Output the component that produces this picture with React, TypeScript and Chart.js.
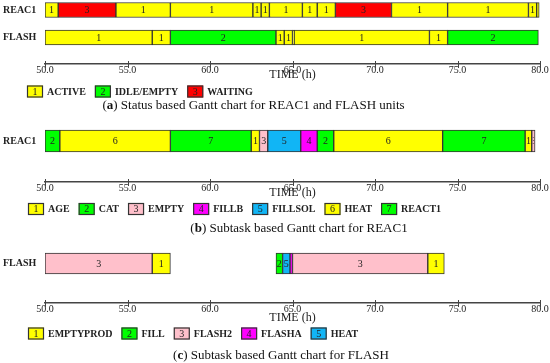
import { useEffect, useRef } from 'react';
import { Chart, registerables } from 'chart.js';

Chart.register(...registerables);

const SERIF = "'Liberation Serif', 'Times New Roman', serif";

// ---- shared axis ----
const timeTicks = [50, 55, 60, 65, 70, 75, 80];
const timeMin = 50;
const timeMax = 80;
const axisTitle = 'TIME (h)';

// ---- (a) status based ----
const statusRows = ['REAC1', 'FLASH'];
const statusNames = ['ACTIVE', 'IDLE/EMPTY', 'WAITING'];
const statusColors = ['#ffff00', '#00ff00', '#ff0000'];
const statusReac1Start = [50.0, 50.8, 54.3, 57.6, 62.6, 63.1, 63.6, 65.6, 66.5, 67.6, 71.0, 74.4, 79.3, 79.8];
const statusReac1End = [50.8, 54.3, 57.6, 62.6, 63.1, 63.6, 65.6, 66.5, 67.6, 71.0, 74.4, 79.3, 79.8, 79.95];
const statusReac1Code = [1, 3, 1, 1, 1, 1, 1, 1, 1, 3, 1, 1, 1, 1];
const statusFlashStart = [50.0, 56.5, 57.6, 64.0, 64.5, 65.0, 65.1, 73.3, 74.4];
const statusFlashEnd = [56.5, 57.6, 64.0, 64.5, 65.0, 65.1, 73.3, 74.4, 79.9];
const statusFlashCode = [1, 1, 2, 1, 1, 1, 1, 1, 2];

// ---- (b) subtask based, REAC1 ----
const reac1TaskRows = ['REAC1'];
const reac1TaskNames = ['AGE', 'CAT', 'EMPTY', 'FILLB', 'FILLSOL', 'HEAT', 'REACT1'];
const reac1TaskColors = ['#ffff00', '#00ff00', '#ffc0cb', '#ff00ff', '#11b5f5', '#ffff00', '#00ff00'];
const reac1TaskStart = [50.0, 50.9, 57.6, 62.5, 63.0, 63.5, 65.5, 66.5, 67.5, 74.1, 79.1, 79.5];
const reac1TaskEnd = [50.9, 57.6, 62.5, 63.0, 63.5, 65.5, 66.5, 67.5, 74.1, 79.1, 79.5, 79.7];
const reac1TaskCode = [2, 6, 7, 1, 3, 5, 4, 2, 6, 7, 1, 3];

// ---- (c) subtask based, FLASH ----
const flashTaskRows = ['FLASH'];
const flashTaskNames = ['EMPTYPROD', 'FILL', 'FLASH2', 'FLASHA', 'HEAT'];
const flashTaskColors = ['#ffff00', '#00ff00', '#ffc0cb', '#ff00ff', '#11b5f5'];
const flashTaskStart = [50.0, 56.5, 64.0, 64.4, 64.85, 65.0, 73.2];
const flashTaskEnd = [56.5, 57.6, 64.4, 64.85, 65.0, 73.2, 74.2];
const flashTaskCode = [3, 1, 2, 5, 4, 3, 1];

type Row = { start: number[]; end: number[]; code: number[] };

interface PanelCfg {
  rows: string[];
  segs: Row[];
  names: string[];
  colors: string[];
  areaTop: number;
  axisY: number;
  yMin: number;
  yMax: number;
  thickness: number;
  timeY: number;
  legendX: number;
  legendY: number;
  tag: string;
  caption: string;
  captionCx: number;
  captionY: number;
}

const panels: PanelCfg[] = [
  {
    rows: statusRows,
    segs: [
      { start: statusReac1Start, end: statusReac1End, code: statusReac1Code },
      { start: statusFlashStart, end: statusFlashEnd, code: statusFlashCode },
    ],
    names: statusNames,
    colors: statusColors,
    areaTop: 0,
    axisY: 64,
    yMin: -0.364,
    yMax: 1.964,
    thickness: 15,
    timeY: 75,
    legendX: 27,
    legendY: 91.5,
    tag: 'a',
    caption: ' Status based Gantt chart for REAC1 and FLASH units',
    captionCx: 253.5,
    captionY: 106,
  },
  {
    rows: reac1TaskRows,
    segs: [{ start: reac1TaskStart, end: reac1TaskEnd, code: reac1TaskCode }],
    names: reac1TaskNames,
    colors: reac1TaskColors,
    areaTop: 120,
    axisY: 182,
    yMin: -0.5,
    yMax: 0.976,
    thickness: 22,
    timeY: 193,
    legendX: 28,
    legendY: 209,
    tag: 'b',
    caption: ' Subtask based Gantt chart for REAC1',
    captionCx: 299,
    captionY: 229,
  },
  {
    rows: flashTaskRows,
    segs: [{ start: flashTaskStart, end: flashTaskEnd, code: flashTaskCode }],
    names: flashTaskNames,
    colors: flashTaskColors,
    areaTop: 240,
    axisY: 303,
    yMin: -0.5,
    yMax: 0.84,
    thickness: 21,
    timeY: 318,
    legendX: 28,
    legendY: 333.5,
    tag: 'c',
    caption: ' Subtask based Gantt chart for FLASH',
    captionCx: 281,
    captionY: 356,
  },
];

function buildChart(canvas: HTMLCanvasElement, cfg: PanelCfg) {
  const data: { x: [number, number]; y: number }[] = [];
  const codes: number[] = [];
  cfg.segs.forEach((row, ri) => {
    row.start.forEach((s, i) => {
      data.push({ x: [s, row.end[i]], y: ri });
      codes.push(row.code[i]);
    });
  });

  const decor = {
    id: 'ganttDecor',
    afterDatasetsDraw(chart: any) {
      const ctx = chart.ctx as CanvasRenderingContext2D;
      const meta = chart.getDatasetMeta(0);
      ctx.save();
      ctx.font = `10px ${SERIF}`;
      ctx.fillStyle = '#222';
      ctx.textAlign = 'center';
      ctx.textBaseline = 'middle';
      meta.data.forEach((el: any, i: number) => {
        const p = el.getProps(['x', 'base', 'y', 'height'], true);
        const l = Math.min(p.x, p.base);
        const r = Math.max(p.x, p.base);
        if (r - l < 3) return;
        ctx.save();
        ctx.beginPath();
        ctx.rect(l + 1, p.y - p.height / 2, r - l - 2, p.height);
        ctx.clip();
        ctx.fillText(String(codes[i]), (l + r) / 2, p.y + 0.5);
        ctx.restore();
      });
      ctx.restore();
    },
    afterDraw(chart: any) {
      const ctx = chart.ctx as CanvasRenderingContext2D;
      const xs = chart.scales.x;
      const area = chart.chartArea;
      ctx.save();
      // tick marks crossing the axis line
      ctx.strokeStyle = '#444';
      ctx.lineWidth = 1;
      xs.ticks.forEach((t: any) => {
        const px = Math.round(xs.getPixelForValue(t.value)) + 0.5;
        ctx.beginPath();
        ctx.moveTo(px, area.bottom - 3);
        ctx.lineTo(px, area.bottom + 4);
        ctx.stroke();
      });
      // axis title
      ctx.fillStyle = '#222';
      ctx.font = `12px ${SERIF}`;
      ctx.textAlign = 'center';
      ctx.textBaseline = 'middle';
      ctx.fillText(axisTitle, (area.left + area.right) / 2, cfg.timeY);
      // legend
      let x = cfg.legendX;
      const ly = cfg.legendY;
      cfg.names.forEach((n, i) => {
        ctx.fillStyle = cfg.colors[i];
        ctx.fillRect(x, ly - 6, 16, 12);
        ctx.strokeStyle = '#333';
        ctx.lineWidth = 1.2;
        ctx.strokeRect(x + 0.5, ly - 5.5, 15, 11);
        ctx.fillStyle = '#222';
        ctx.font = `10px ${SERIF}`;
        ctx.textAlign = 'center';
        ctx.fillText(String(i + 1), x + 8, ly + 0.5);
        ctx.font = `bold 10px ${SERIF}`;
        ctx.textAlign = 'left';
        ctx.fillText(n, x + 20, ly + 0.5);
        x += 20 + ctx.measureText(n).width + 9;
      });
      // caption
      const fN = `13px ${SERIF}`;
      const fB = `bold 13px ${SERIF}`;
      ctx.font = fN;
      const w1 = ctx.measureText('(').width;
      const w3 = ctx.measureText(')' + cfg.caption).width;
      ctx.font = fB;
      const w2 = ctx.measureText(cfg.tag).width;
      let cx = cfg.captionCx - (w1 + w2 + w3) / 2;
      ctx.fillStyle = '#111';
      ctx.textAlign = 'left';
      ctx.font = fN;
      ctx.fillText('(', cx, cfg.captionY);
      cx += w1;
      ctx.font = fB;
      ctx.fillText(cfg.tag, cx, cfg.captionY);
      cx += w2;
      ctx.font = fN;
      ctx.fillText(')' + cfg.caption, cx, cfg.captionY);
      ctx.restore();
    },
  };

  return new Chart(canvas, {
    type: 'bar',
    data: {
      datasets: [
        {
          data: data as any,
          backgroundColor: codes.map((c) => cfg.colors[c - 1]),
          borderColor: '#333',
          borderWidth: 1,
          borderSkipped: false,
          barThickness: cfg.thickness,
        },
      ],
    },
    plugins: [decor],
    options: {
      animation: false,
      responsive: false,
      indexAxis: 'y',
      layout: { padding: { left: 3, right: 10, top: cfg.areaTop, bottom: 0 } },
      plugins: { legend: { display: false }, tooltip: { enabled: false } },
      scales: {
        x: {
          type: 'linear',
          position: 'bottom',
          min: timeMin,
          max: timeMax,
          afterBuildTicks: (s: any) => {
            s.ticks = timeTicks.map((v) => ({ value: v }));
          },
          afterFit: (s: any) => {
            s.height = 363 - cfg.axisY;
            s.paddingLeft = 0;
            s.paddingRight = 0;
          },
          grid: { display: true, drawOnChartArea: false, drawTicks: false },
          border: { display: true, color: '#444', width: 1.5 },
          ticks: {
            padding: 0,
            autoSkip: false,
            maxRotation: 0,
            color: '#222',
            font: { family: SERIF, size: 10 },
            callback: (v: any) => Number(v).toFixed(1),
          },
        },
        y: {
          type: 'linear',
          reverse: true,
          offset: false,
          min: cfg.yMin,
          max: cfg.yMax,
          afterBuildTicks: (s: any) => {
            s.ticks = cfg.rows.map((_, i) => ({ value: i }));
          },
          afterFit: (s: any) => {
            s.width = 42;
            s.paddingTop = 0;
            s.paddingBottom = 0;
          },
          grid: { display: false, offset: false },
          border: { display: false },
          ticks: {
            crossAlign: 'far',
            color: '#222',
            font: { family: SERIF, size: 10, weight: 'bold' },
            callback: (v: any) => cfg.rows[v] ?? '',
          },
        },
      },
    } as any,
  });
}

export default function App() {
  const r0 = useRef<HTMLCanvasElement>(null);
  const r1 = useRef<HTMLCanvasElement>(null);
  const r2 = useRef<HTMLCanvasElement>(null);

  useEffect(() => {
    const refs = [r0, r1, r2];
    const charts = panels.map((p, i) => buildChart(refs[i].current as HTMLCanvasElement, p));
    return () => charts.forEach((c) => c.destroy());
  }, []);

  const style: React.CSSProperties = { position: 'absolute', left: 0, top: 0 };
  return (
    <div style={{ position: 'absolute', left: 0, top: 0, width: 550, height: 363, background: '#fff' }}>
      <canvas ref={r0} width={550} height={363} style={style} />
      <canvas ref={r1} width={550} height={363} style={style} />
      <canvas ref={r2} width={550} height={363} style={style} />
    </div>
  );
}
